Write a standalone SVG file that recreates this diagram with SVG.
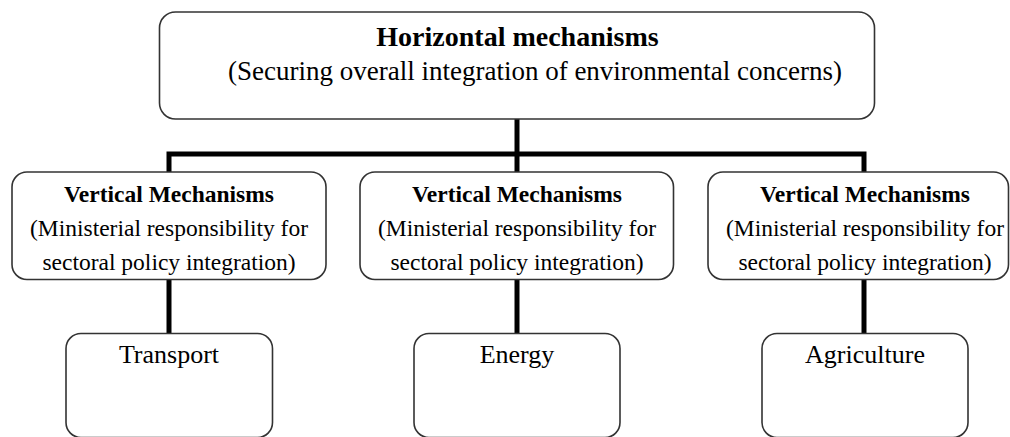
<svg xmlns="http://www.w3.org/2000/svg" width="1010" height="437" viewBox="0 0 1010 437">
<style>
.box{fill:#fff;stroke:#333;stroke-width:1.6}
.t{font-family:"Liberation Serif","Times New Roman",serif;fill:#000;text-anchor:middle}
.b{font-weight:bold}
.conn{fill:none;stroke:#000;stroke-width:5;stroke-linejoin:miter;stroke-linecap:butt}
</style>
<rect width="1010" height="437" fill="#fff"/>
<g id="connectors">
<path class="conn" d="M169 172 V154 H864 V172"/>
<path class="conn" d="M517 119 V172"/>
<path class="conn" d="M169 280 V333"/>
<path class="conn" d="M517 280 V333"/>
<path class="conn" d="M864 280 V333"/>
</g>
<g id="horizontal">
<rect class="box" x="159.5" y="12" width="715" height="107" rx="16"/>
<text class="t b" x="517.5" y="46" font-size="28">Horizontal mechanisms</text>
<text class="t" x="228" y="80" font-size="27" style="text-anchor:start">(Securing overall integration of environmental concerns)</text>
</g>
<g id="vertical-1">
<rect class="box" x="12" y="172" width="314" height="107.5" rx="15"/>
<text class="t b" x="169" y="202" font-size="23.5">Vertical Mechanisms</text>
<text class="t" x="169" y="236" font-size="23.5">(Ministerial responsibility for</text>
<text class="t" x="169" y="270" font-size="23.5">sectoral policy integration)</text>
</g>
<g id="vertical-2">
<rect class="box" x="360" y="172" width="313.5" height="107.5" rx="15"/>
<text class="t b" x="517" y="202" font-size="23.5">Vertical Mechanisms</text>
<text class="t" x="517" y="236" font-size="23.5">(Ministerial responsibility for</text>
<text class="t" x="517" y="270" font-size="23.5">sectoral policy integration)</text>
</g>
<g id="vertical-3">
<rect class="box" x="708" y="172" width="300.5" height="107.5" rx="15"/>
<text class="t b" x="865" y="202" font-size="23.5">Vertical Mechanisms</text>
<text class="t" x="865" y="236" font-size="23.5">(Ministerial responsibility for</text>
<text class="t" x="865" y="270" font-size="23.5">sectoral policy integration)</text>
</g>
<g id="transport">
<rect class="box" x="66" y="333.5" width="206.5" height="104" rx="15"/>
<text class="t" x="169" y="363" font-size="26">Transport</text>
</g>
<g id="energy">
<rect class="box" x="414" y="333.5" width="206" height="104" rx="15"/>
<text class="t" x="517" y="363" font-size="26">Energy</text>
</g>
<g id="agriculture">
<rect class="box" x="762" y="333.5" width="206" height="104" rx="15"/>
<text class="t" x="865" y="363" font-size="26">Agriculture</text>
</g>
</svg>
